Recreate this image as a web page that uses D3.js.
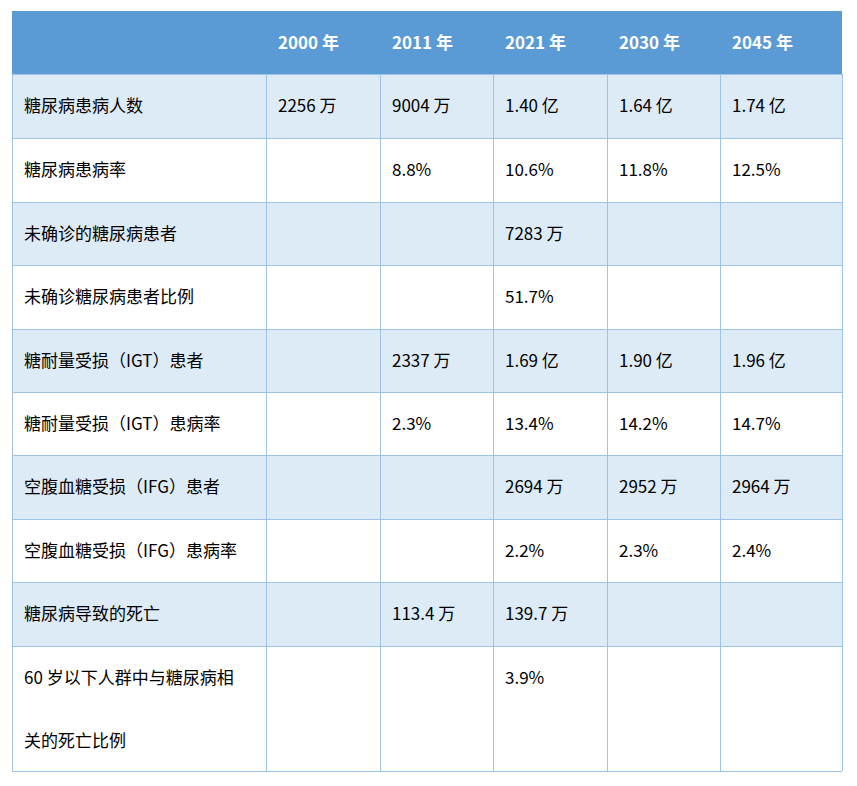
<!DOCTYPE html>
<html><head><meta charset="utf-8">
<script src="https://cdn.jsdelivr.net/npm/d3@7"></script>
<style>body{margin:0;background:#fff}</style></head>
<body><svg id="c" width="857" height="786"></svg>
<script>
const years = ["2000 年","2011 年","2021 年","2030 年","2045 年"];
const rowLabels = [["糖尿病患病人数"],["糖尿病患病率"],["未确诊的糖尿病患者"],["未确诊糖尿病患者比例"],["糖耐量受损（IGT）患者"],["糖耐量受损（IGT）患病率"],["空腹血糖受损（IFG）患者"],["空腹血糖受损（IFG）患病率"],["糖尿病导致的死亡"],["60 岁以下人群中与糖尿病相","关的死亡比例"]];
const v2000 = ["2256 万","","","","","","","","",""];
const v2011 = ["9004 万","8.8%","","","2337 万","2.3%","","","113.4 万",""];
const v2021 = ["1.40 亿","10.6%","7283 万","51.7%","1.69 亿","13.4%","2694 万","2.2%","139.7 万","3.9%"];
const v2030 = ["1.64 亿","11.8%","","","1.90 亿","14.2%","2952 万","2.3%","",""];
const v2045 = ["1.74 亿","12.5%","","","1.96 亿","14.7%","2964 万","2.4%","",""];
const cols = [v2000,v2011,v2021,v2030,v2045];

const svg = d3.select("#c");
const colEdges = [12,266,380,493,607,720,842];
const rowTops = [74,138,202,265,329,392,455,519,582,646,771];
const font = "'Noto Sans CJK SC','Noto Sans',sans-serif";
// header
svg.append("rect").attr("x",12).attr("y",11).attr("width",830).attr("height",63).attr("fill","#5b9bd5");
years.forEach((y,i)=>svg.append("text").attr("x",colEdges[i+1]+12).attr("y",43).attr("dy","0.35em")
  .attr("fill","#fff").attr("font-weight","bold").attr("font-size",17).attr("font-family",font).text(y));
rowLabels.forEach((lab,r)=>{
  const y0=rowTops[r], y1=rowTops[r+1];
  svg.append("rect").attr("x",12).attr("y",y0).attr("width",830).attr("height",y1-y0)
    .attr("fill", r%2===0?"#ddebf7":"#fff");
  lab.forEach((t,k)=>svg.append("text").attr("x",24).attr("y",y0+32+k*63).attr("dy","0.35em")
    .attr("font-size",17).attr("font-family",font).attr("fill","#000").text(t));
  cols.forEach((c,i)=>{ if(c[r]) svg.append("text").attr("x",colEdges[i+1]+12).attr("y",y0+32).attr("dy","0.35em")
    .attr("font-size",17).attr("font-family",font).attr("fill","#000").text(c[r]); });
});
const g=svg.append("g").attr("stroke","#9dc3e6").attr("stroke-width",1);
rowTops.forEach(y=>g.append("line").attr("x1",12).attr("x2",842).attr("y1",y+0.5).attr("y2",y+0.5));
colEdges.forEach(x=>g.append("line").attr("x1",x+0.5).attr("x2",x+0.5).attr("y1",74).attr("y2",771));
</script></body></html>
